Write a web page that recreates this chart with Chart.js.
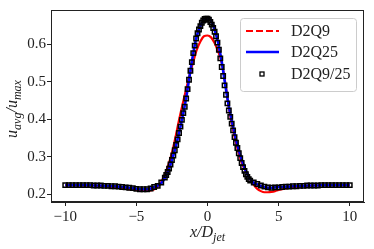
<!DOCTYPE html>
<html>
<head>
<meta charset="utf-8">
<script src="https://cdn.jsdelivr.net/npm/chart.js@4.4.1/dist/chart.umd.min.js"></script>
<style>
  html, body { margin: 0; padding: 0; background: #fff; }
  canvas { display: block; }
</style>
</head>
<body>
<canvas id="profileChart" width="374" height="249"></canvas>
<script>
// x positions for the two line series (every 0.25)
const xLines = [
  -10, -9.75, -9.5, -9.25, -9, -8.75, -8.5, -8.25, -8, -7.75, -7.5, -7.25, -7, -6.75, -6.5, -6.25,
  -6, -5.75, -5.5, -5.25, -5, -4.75, -4.5, -4.25, -4, -3.75, -3.5, -3.25, -3, -2.75, -2.5, -2.25,
  -2, -1.75, -1.5, -1.25, -1, -0.75, -0.5, -0.25, 0, 0.25, 0.5, 0.75, 1, 1.25, 1.5, 1.75,
  2, 2.25, 2.5, 2.75, 3, 3.25, 3.5, 3.75, 4, 4.25, 4.5, 4.75, 5, 5.25, 5.5, 5.75,
  6, 6.25, 6.5, 6.75, 7, 7.25, 7.5, 7.75, 8, 8.25, 8.5, 8.75, 9, 9.25, 9.5, 9.75, 10
];
const d2q9 = [
  .224, .224, .224, .224, .224, .223, .223, .223, .223, .222, .222, .221, .220, .219, .218, .217,
  .216, .215, .213, .212, .211, .210, .209, .209, .210, .213, .220, .233, .252, .278, .310, .352,
  .398, .440, .480, .518, .553, .585, .607, .621, .623, .618, .603, .580, .550, .497, .430, .380,
  .337, .302, .275, .258, .240, .225, .214, .208, .205, .205, .206, .208, .211, .213, .215, .217,
  .218, .219, .220, .221, .222, .222, .223, .223, .224, .224, .224, .224, .224, .224, .224, .224, .224
];
const d2q25 = [
  .224, .224, .224, .224, .224, .224, .224, .224, .223, .223, .223, .222, .222, .221, .221, .220,
  .219, .218, .217, .216, .214, .213, .213, .213, .215, .219, .223, .229, .243, .263, .291, .324,
  .363, .407, .456, .517, .576, .622, .648, .665, .668, .663, .639, .603, .553, .491, .434, .389,
  .346, .311, .281, .257, .240, .230, .226, .222, .219, .217, .217, .218, .219, .219, .220, .220,
  .221, .221, .222, .222, .223, .223, .223, .223, .224, .224, .224, .224, .224, .224, .224, .224, .224
];

// x positions for the marker series (denser around the jet)
const xMarks = [
  -10, -9.75, -9.5, -9.25, -9, -8.75, -8.5, -8.25, -8, -7.75, -7.5, -7.25, -7, -6.75,
  -6.5, -6.25, -6, -5.75, -5.5, -5.25, -5, -4.75, -4.5, -4.25, -4, -3.75, -3.5, -3.25,
  -3, -2.9, -2.8, -2.7, -2.6, -2.5, -2.4, -2.3, -2.2, -2.1, -2, -1.9, -1.8, -1.7, -1.6, -1.5,
  -1.4, -1.3, -1.2, -1.1, -1, -0.9, -0.8, -0.7, -0.6, -0.5, -0.4, -0.3, -0.2, -0.1, 0,
  0.1, 0.2, 0.3, 0.4, 0.5, 0.6, 0.7, 0.8, 0.9, 1, 1.1, 1.2, 1.3, 1.4, 1.5,
  1.6, 1.7, 1.8, 1.9, 2, 2.1, 2.2, 2.3, 2.4, 2.5, 2.6, 2.7, 2.8, 2.9, 3,
  3.25, 3.5, 3.75, 4, 4.25, 4.5, 4.75, 5, 5.25, 5.5, 5.75, 6, 6.25, 6.5,
  6.75, 7, 7.25, 7.5, 7.75, 8, 8.25, 8.5, 8.75, 9, 9.25, 9.5, 9.75, 10
];
const d2q9_25 = [
  .224, .224, .224, .224, .224, .224, .224, .224, .223, .223, .223, .222, .222, .221,
  .221, .220, .219, .218, .217, .216, .214, .213, .213, .213, .215, .219, .222, .231,
  .244, .251, .259, .268, .279, .291, .303, .317, .331, .346, .363, .380, .398, .416, .433, .455,
  .480, .505, .529, .552, .576, .596, .615, .629, .639, .648, .657, .663, .667, .668, .668,
  .665, .659, .652, .643, .633, .621, .604, .585, .562, .539, .515, .490, .465, .442,
  .423, .406, .388, .370, .352, .337, .323, .309, .296, .283, .272, .262, .253, .246, .240, .236,
  .231, .227, .223, .220, .218, .217, .218, .218, .219, .220, .220, .221, .221, .222,
  .222, .223, .223, .223, .223, .224, .224, .224, .224, .224, .224, .224, .224, .224
];

const xTicks = [-10, -5, 0, 5, 10];
const yTicks = [0.2, 0.3, 0.4, 0.5, 0.6];
const legendDash = [[7, 3], [], []];

const serif = "'Liberation Serif', 'DejaVu Serif', serif";

function pts(xs, ys) {
  return xs.map((x, i) => ({ x: x, y: ys[i] }));
}

function fmtMinus(s) {
  return String(s).replace("-", "\u2212");
}

// draw a small piece of "math" text: parts = [text, italic, subscript]
function mathWidth(ctx, parts, size, subSize) {
  let w = 0;
  parts.forEach((p) => {
    ctx.font = (p[1] ? "italic " : "") + (p[2] ? subSize : size) + "px " + serif;
    w += ctx.measureText(p[0]).width;
  });
  return w;
}

function drawMath(ctx, parts, cx, baseline, size, subSize) {
  const w = mathWidth(ctx, parts, size, subSize);
  let x = cx - w / 2;
  ctx.textAlign = "left";
  ctx.textBaseline = "alphabetic";
  parts.forEach((p) => {
    ctx.font = (p[1] ? "italic " : "") + (p[2] ? subSize : size) + "px " + serif;
    ctx.fillText(p[0], x, p[2] ? baseline + 4 : baseline);
    x += ctx.measureText(p[0]).width;
  });
}

const framePlugin = {
  id: "frame",
  afterDraw(chart) {
    const ctx = chart.ctx;
    const a = chart.chartArea;
    ctx.save();
    ctx.strokeStyle = "#222";
    ctx.lineWidth = 1;
    ctx.strokeRect(Math.round(a.left) + 0.5, Math.round(a.top) + 0.5,
      Math.round(a.right - a.left) - 1, Math.round(a.bottom - a.top) - 1);

    // axis titles
    ctx.fillStyle = "#222";
    drawMath(ctx, [["x", true, false], ["/", true, false], ["D", true, false], ["jet", true, true]],
      (a.left + a.right) / 2, 237, 16, 12);
    ctx.save();
    ctx.translate(17, (a.top + a.bottom) / 2 + 3);
    ctx.rotate(-Math.PI / 2);
    drawMath(ctx, [["u", true, false], ["avg", true, true], ["/", true, false], ["u", true, false], ["max", true, true]],
      0, 0, 16, 12);
    ctx.restore();

    // legend
    const bx = a.right - 124, by = a.top + 8, bw = 116, bh = 73;
    ctx.beginPath();
    ctx.roundRect(bx + 0.5, by + 0.5, bw, bh, 3);
    ctx.fillStyle = "rgba(255,255,255,0.8)";
    ctx.fill();
    ctx.strokeStyle = "#cccccc";
    ctx.stroke();
    const rows = [13, 34, 56];
    chart.data.datasets.forEach((ds, i) => {
      const y = by + rows[i];
      ctx.save();
      if (ds.showLine === false) {
        ctx.strokeStyle = ds.borderColor;
        ctx.lineWidth = 1.3;
        ctx.strokeRect(bx + 20, y - 2, 4, 4);
      } else {
        ctx.strokeStyle = ds.borderColor;
        ctx.lineWidth = ds.borderWidth;
        ctx.setLineDash(legendDash[i]);
        ctx.beginPath();
        ctx.moveTo(bx + 6, y);
        ctx.lineTo(bx + 39, y);
        ctx.stroke();
      }
      ctx.restore();
      ctx.fillStyle = "#222";
      ctx.font = "16px " + serif;
      ctx.textAlign = "left";
      ctx.textBaseline = "middle";
      ctx.fillText(ds.label, bx + 51, y + 1);
    });
    ctx.restore();
  },
};

const ctx = document.getElementById("profileChart").getContext("2d");
new Chart(ctx, {
  type: "line",
  data: {
    datasets: [
      {
        label: "D2Q9",
        data: pts(xLines, d2q9),
        borderColor: "#ff0000",
        borderWidth: 2.2,
        pointRadius: 0,
        cubicInterpolationMode: "monotone",
        order: 3,
      },
      {
        label: "D2Q25",
        data: pts(xLines, d2q25),
        borderColor: "#0000ff",
        borderWidth: 2.6,
        pointRadius: 0,
        cubicInterpolationMode: "monotone",
        order: 2,
      },
      {
        label: "D2Q9/25",
        data: pts(xMarks, d2q9_25),
        showLine: false,
        pointStyle: "rect",
        pointRadius: 3.1,
        pointBorderWidth: 1.5,
        borderColor: "#000000",
        pointBorderColor: "#000000",
        pointBackgroundColor: "rgba(0,0,0,0)",
        backgroundColor: "rgba(0,0,0,0)",
        order: 1,
      },
    ],
  },
  options: {
    responsive: false,
    animation: false,
    devicePixelRatio: 1,
    layout: { padding: { left: 0, right: 10, top: 10, bottom: 0 } },
    plugins: {
      legend: { display: false },
      tooltip: { enabled: false },
    },
    scales: {
      x: {
        type: "linear",
        min: -11,
        max: 11,
        afterBuildTicks: (scale) => { scale.ticks = xTicks.map((v) => ({ value: v })); },
        afterFit: (scale) => { scale.height = 47; },
        grid: { drawOnChartArea: false, drawTicks: true, tickLength: 4, color: "#222" },
        border: { display: true, color: "#222", width: 1 },
        ticks: {
          padding: 2,
          color: "#222",
          font: { family: serif, size: 15 },
          maxRotation: 0,
          callback: (v) => fmtMinus(v),
        },
      },
      y: {
        type: "linear",
        min: 0.179,
        max: 0.691,
        afterBuildTicks: (scale) => { scale.ticks = yTicks.map((v) => ({ value: v })); },
        afterFit: (scale) => { scale.width = 51; },
        grid: { drawOnChartArea: false, drawTicks: true, tickLength: 4, color: "#222" },
        border: { display: true, color: "#222", width: 1 },
        ticks: {
          padding: 1,
          color: "#222",
          font: { family: serif, size: 15 },
          callback: (v) => v.toFixed(1),
        },
      },
    },
  },
  plugins: [framePlugin],
});
</script>
</body>
</html>
